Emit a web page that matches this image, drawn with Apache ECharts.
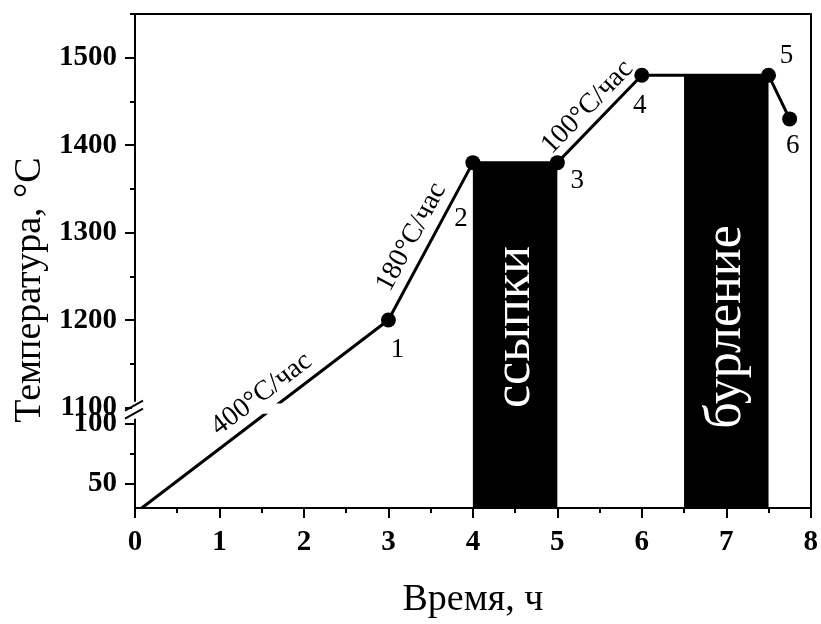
<!DOCTYPE html>
<html><head><meta charset="utf-8">
<script src="https://cdn.jsdelivr.net/npm/echarts@6/dist/echarts.min.js"></script>
<style>html,body{margin:0;padding:0;background:#fff}#c{width:821px;height:624px}</style>
</head><body><div id="c"></div>
<script>
// ---------- data ----------
const times = [0.08, 3, 4, 5, 6, 7.5, 7.75];
const temps = [30, 1200, 1380, 1380, 1480, 1480, 1430];
const pointLabels = ['', '1', '2', '3', '4', '5', '6'];
const stageStart = [4, 6.5];
const stageEnd = [5, 7.5];
const stageTemp = [1380, 1480];
const stageNames = ['ссыпки', 'бурление'];
const rateFrom = [0, 1, 3];
const rateTo = [1, 2, 4];
const rateTexts = ['400°C/час', '180°C/час', '100°C/час'];
const xTickValues = [0, 1, 2, 3, 4, 5, 6, 7, 8];
const lowMajor = [50, 100];
const lowMinor = [75];
const upMajor = [1100, 1200, 1300, 1400, 1500];
const upMinor = [1150, 1250, 1350, 1450, 1550];

// ---------- broken temperature scale (two segments) ----------
const LOW_MIN = 30, LOW_MAX = 110, LOW_K = 1.214;
const UP_MIN = 1100, UP_MAX = 1550, UP_BASE = 101.6, UP_K = 0.8835;
const BREAK_V = 99.3;
function v(T) { return T <= LOW_MAX ? (T - LOW_MIN) * LOW_K : UP_BASE + (T - UP_MIN) * UP_K; }
function invV(val) { return val < BREAK_V ? LOW_MIN + val / LOW_K : UP_MIN + (val - UP_BASE) / UP_K; }
const V_MAX = v(UP_MAX);

// ---------- styles ----------
const FONT = '"Liberation Serif", "Times New Roman", serif';
const labelOffsets = [[0,0],[9,30],[-12,56],[20,18],[-2,31],[18,-19],[3,27]];
const rateT = [0.53, 0.47, 0.5];
const rateD = [18, 19, 17];
const STAGE_LABEL_T = 1192;

const chart = echarts.init(document.getElementById('c'), null, {renderer: 'canvas'});

const axisLineStyle = {color: '#000', width: 2};

const option = {
  backgroundColor: '#fff',
  animation: false,
  grid: {left: 135, right: 9, top: 14, bottom: 110},
  xAxis: [{
    type: 'value', position: 'bottom', min: 0, max: 8, interval: 1,
    axisLine: {show: true, onZero: false, lineStyle: axisLineStyle},
    axisTick: {show: true, inside: false, length: 10, lineStyle: axisLineStyle},
    minorTick: {show: true, splitNumber: 2, length: 5, lineStyle: axisLineStyle},
    splitLine: {show: false},
    axisLabel: {margin: 20, color: '#000', fontFamily: FONT, fontWeight: 'bold', fontSize: 29,
      formatter: (val) => xTickValues.includes(val) ? String(val) : ''},
    name: 'Время, ч', nameLocation: 'middle', nameGap: 73,
    nameTextStyle: {fontFamily: FONT, fontSize: 38, color: '#000'}
  }, {
    type: 'value', position: 'top', min: 0, max: 8,
    axisLine: {show: true, onZero: false, lineStyle: axisLineStyle},
    axisTick: {show: false}, axisLabel: {show: false}, splitLine: {show: false}
  }],
  yAxis: [{
    type: 'value', position: 'left', min: 0, max: V_MAX,
    axisLine: {show: true, onZero: false, lineStyle: axisLineStyle},
    axisTick: {show: true, inside: false, length: 10, lineStyle: axisLineStyle,
      customValues: lowMajor.concat(upMajor).map(v)},
    axisLabel: {show: true, margin: 18, color: '#000', fontFamily: FONT, fontWeight: 'bold', fontSize: 29,
      customValues: lowMajor.concat(upMajor).map(v),
      formatter: (val) => String(Math.round(invV(val)))},
    splitLine: {show: false}
  }, {
    type: 'value', position: 'left', min: 0, max: V_MAX,
    axisLine: {show: false},
    axisTick: {show: true, inside: false, length: 5, lineStyle: axisLineStyle,
      customValues: lowMinor.concat(upMinor).map(v)},
    axisLabel: {show: false, customValues: lowMinor.concat(upMinor).map(v)},
    splitLine: {show: false}
  }, {
    type: 'value', position: 'right', min: 0, max: V_MAX,
    axisLine: {show: true, onZero: false, lineStyle: axisLineStyle},
    axisTick: {show: false}, axisLabel: {show: false}, splitLine: {show: false}
  }],
  series: [{
    type: 'custom', name: 'stages', z: 1,
    data: stageStart.map((s, i) => [s, stageEnd[i], v(stageTemp[i]), i]),
    renderItem: function (params, api) {
      const i = api.value(3);
      const p0 = api.coord([api.value(0), api.value(2)]);
      const p1 = api.coord([api.value(1), 0]);
      const ly = api.coord([0, v(STAGE_LABEL_T)])[1];
      return {type: 'group', children: [
        {type: 'rect', shape: {x: p0[0], y: p0[1], width: p1[0] - p0[0], height: p1[1] - p0[1]},
          style: {fill: '#000'}},
        {type: 'text', x: (p0[0] + p1[0]) / 2, y: ly, rotation: Math.PI / 2,
          style: {text: stageNames[i], fill: '#fff', font: '52px ' + FONT,
            align: 'center', verticalAlign: 'middle', textAlign: 'center', textVerticalAlign: 'middle'}}
      ]};
    }
  }, {
    type: 'line', name: 'temperature', z: 5,
    symbolSize: 15,
    itemStyle: {color: '#000'},
    lineStyle: {color: '#000', width: 3},
    data: times.map((t, i) => ({
      value: [t, v(temps[i])],
      symbol: i === 0 ? 'none' : 'circle',
      label: {show: i > 0, position: 'inside', offset: labelOffsets[i],
        formatter: pointLabels[i], color: '#000', fontFamily: FONT, fontSize: 27,
        align: 'center', verticalAlign: 'middle'}
    }))
  }, {
    type: 'custom', name: 'rates', z: 20,
    data: rateFrom.map((a, i) => [times[a], v(temps[a]), times[rateTo[i]], v(temps[rateTo[i]]), i]),
    renderItem: function (params, api) {
      const i = api.value(4);
      const p0 = api.coord([api.value(0), api.value(1)]);
      const p1 = api.coord([api.value(2), api.value(3)]);
      const dx = p1[0] - p0[0], dy = p1[1] - p0[1];
      const len = Math.sqrt(dx * dx + dy * dy);
      const nx = dy / len, ny = -dx / len;
      const t = rateT[i], d = rateD[i];
      return {type: 'text',
        x: p0[0] + dx * t + nx * d, y: p0[1] + dy * t + ny * d,
        rotation: Math.atan2(-dy, dx),
        style: {text: rateTexts[i], fill: '#000', font: '28px ' + FONT,
          align: 'center', verticalAlign: 'middle', textAlign: 'center', textVerticalAlign: 'middle'}};
    }
  }]
};
chart.setOption(option);

// axis break decoration
function drawBreak() {
  const pc = chart.convertToPixel({gridIndex: 0}, [0, BREAK_V]);
  const x0 = pc[0], yc = pc[1];
  const gl = chart.convertToPixel({gridIndex: 0}, [1.2, v(LOW_MAX) - 2]);
  const gr = chart.convertToPixel({gridIndex: 0}, [2.3, v(UP_MIN) + 4]);
  chart.setOption({graphic: [
    {type: 'rect', z: 10, shape: {x: gl[0], y: gr[1], width: gr[0] - gl[0], height: gl[1] - gr[1]},
      style: {fill: '#fff'}},
    {type: 'rect', z: 30, shape: {x: x0 - 3, y: yc - 8, width: 6, height: 17}, style: {fill: '#fff'}},
    {type: 'line', z: 31, shape: {x1: x0 - 10, y1: yc + 1, x2: x0 + 8, y2: yc - 9},
      style: {stroke: '#000', lineWidth: 2}},
    {type: 'line', z: 31, shape: {x1: x0 - 10, y1: yc + 9, x2: x0 + 8, y2: yc - 1},
      style: {stroke: '#000', lineWidth: 2}},
    {type: 'text', z: 31, x: 30, y: 290, rotation: Math.PI / 2,
      style: {text: 'Температура, °C', fill: '#000', font: '38px ' + FONT,
        align: 'center', verticalAlign: 'middle', textAlign: 'center', textVerticalAlign: 'middle'}}
  ]});
}
drawBreak();
</script>
</body></html>
